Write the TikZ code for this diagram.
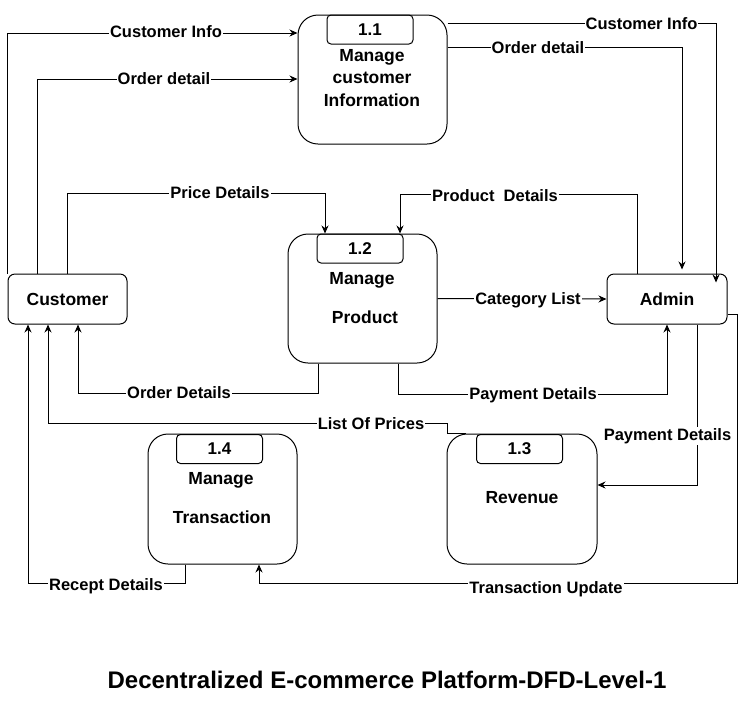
\documentclass[tikz,border=0pt]{standalone}
\usepackage{fontspec}
\setmainfont{Liberation Sans}
\usetikzlibrary{arrows.meta}
\begin{document}
\begin{tikzpicture}[x=1pt,y=-1pt,
  proc/.style={draw,rounded corners=20pt,line width=1pt,inner sep=0pt},
  numbox/.style={draw,rounded corners=4pt,line width=1pt,minimum width=86pt,minimum height=29pt,inner sep=0pt,font=\bfseries\fontsize{17}{20}\selectfont},
  ext/.style={draw,rounded corners=7pt,line width=1pt,minimum width=120pt,minimum height=50pt,inner sep=0pt,font=\bfseries\fontsize{17.5}{20}\selectfont},
  ptxt/.style={inner sep=0pt,font=\bfseries\fontsize{17.5}{20}\selectfont},
  arr/.style={line width=1pt,-{Stealth[length=8pt,width=7pt]}},
  lbl/.style={fill=white,inner sep=1pt,font=\bfseries\fontsize{16.5}{18}\selectfont}]
\useasboundingbox[fill=white] (0,0) rectangle (747,716);

% processes
\node[proc,minimum width=149pt,minimum height=129pt] (p11) at (372.5,79.5) {};
\node[numbox] (n11) at (370,29.5) {1.1};
\node[ptxt] (t11a) at (372,57) {Manage};
\node[ptxt] (t11b) at (372,78) {customer};
\node[ptxt] (t11c) at (372,100) {Information};

\node[proc,minimum width=149pt,minimum height=129pt] (p12) at (362.5,298.5) {};
\node[numbox] (n12) at (360,248.5) {1.2};
\node[ptxt] (t12a) at (362,280) {Manage};
\node[ptxt] (t12b) at (365,317) {Product};

\node[proc,minimum width=150pt,minimum height=130pt] (p13) at (522,499) {};
\node[numbox] (n13) at (519.5,449) {1.3};
\node[ptxt] (t13a) at (522,498) {Revenue};

\node[proc,minimum width=149pt,minimum height=130pt] (p14) at (222.5,499) {};
\node[numbox] (n14) at (219.5,449) {1.4};
\node[ptxt] (t14a) at (221,480) {Manage};
\node[ptxt] (t14b) at (222,517) {Transaction};

% externals
\node[ext,minimum width=119pt] (cust) at (67.5,299) {Customer};
\node[ext] (adm) at (667,299) {Admin};

% connectors
\draw[arr] (cust.north west) |- ([yshift=46.5pt]p11.west);
\draw[arr] ([xshift=-30.5pt]cust.north) |- ([yshift=0.5pt]p11.west);
\draw[arr] ([yshift=56.5pt]p11.east) -| ([xshift=49pt,yshift=-9pt]adm.north);
\draw[arr] ([yshift=32.5pt]p11.east) -| ([xshift=15pt,yshift=4pt]adm.north);
\draw[arr] (cust.north) -- ++(0,-80) -| ([xshift=-37.5pt]p12.north);
\draw[arr] ([xshift=-30pt]adm.north) -- ++(0,-79) -| ([xshift=37.5pt]p12.north);
\draw[arr] (p12.east) -- (adm.west);
\draw[arr] ([xshift=-44.5pt]p12.south) -- ++(0,30) -| ([xshift=10.5pt]cust.south);
\draw[arr] ([xshift=35.5pt]p12.south) -- ++(0,30.5) -| (adm.south);
\draw[arr] ([xshift=-56pt]p13.north) -- ++(-19,0) -- ++(0,-10) -| ([xshift=-19.5pt]cust.south);
\draw[arr] ([xshift=-37.5pt]p14.south) -- ++(0,19) -| ([xshift=-39.5pt]cust.south);
\draw[arr] ([yshift=-15pt]adm.east) -- ++(10,0) -- ++(0,269) -| ([xshift=36.5pt]p14.south);
\draw[arr] ([xshift=30pt]adm.south) |- ([yshift=14pt]p13.east);

% labels
\node[lbl] (l1) at (166,32) {Customer Info};
\node[lbl] (l2) at (164,79) {Order detail};
\node[lbl] (l3) at (641.5,23.5) {Customer Info};
\node[lbl] (l4) at (538,48) {Order detail};
\node[lbl] (l5) at (220,193) {Price Details};
\node[lbl] (l6) at (495,196) {Product\ \ Details};
\node[lbl] (l7) at (528,300) {Category List};
\node[lbl] (l8) at (179,393) {Order Details};
\node[lbl] (l9) at (533,395) {Payment Details};
\node[lbl] (l10) at (371,423.5) {List Of Prices};
\node[lbl] (l11) at (667.5,436) {Payment Details};
\node[lbl] (l12) at (546,589) {Transaction Update};
\node[lbl] (l13) at (106,586) {Recept Details};

% title
\node[inner sep=0pt,font=\bfseries\fontsize{24}{28}\selectfont] (title) at (387,680) {Decentralized E-commerce Platform-DFD-Level-1};
\end{tikzpicture}
\end{document}
